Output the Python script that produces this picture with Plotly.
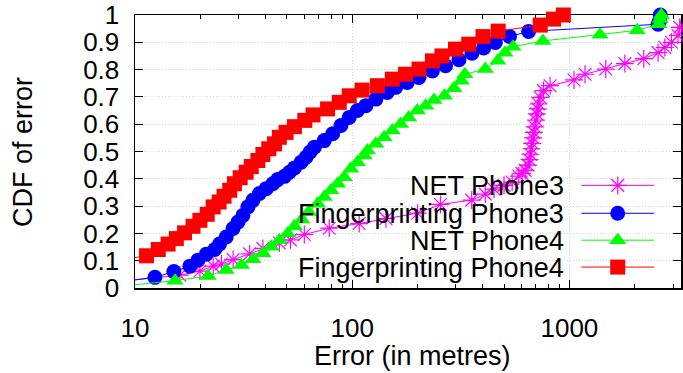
import math
import plotly.graph_objects as go

# ---- data: localisation error (m) vs cumulative fraction ----
net3_err = [8, 16.1, 19.9, 22.9, 25.0, 28.3, 33.7, 38.8, 46.2, 52.0,
            60.2, 78.4, 107.7, 143, 200, 255, 355, 410, 450, 500,
            545, 585, 605, 626, 645, 655, 662, 668, 674, 680,
            686, 694, 702, 708, 715, 721, 734, 760, 815, 1050,
            1180, 1470, 1800, 2200, 2560, 2750, 2950, 3160, 3220, 3265, 3300]
net3_cdf = [0.022, 0.047, 0.062, 0.080, 0.088, 0.104, 0.125, 0.145, 0.165, 0.176,
            0.196, 0.219, 0.236, 0.254, 0.274, 0.306, 0.322, 0.344, 0.362, 0.376,
            0.388, 0.410, 0.420, 0.431, 0.450, 0.470, 0.490, 0.510, 0.530, 0.550,
            0.570, 0.590, 0.615, 0.638, 0.656, 0.674, 0.698, 0.723, 0.741, 0.762,
            0.783, 0.802, 0.822, 0.840, 0.862, 0.881, 0.900, 0.925, 0.955, 0.980, 1.000]

fp3_err = [8, 12.35, 15.1, 17.9, 19.5, 21.3, 23.3, 24.5, 26.3, 28.3,
           29.8, 31.4, 33.1, 34.9, 37.4, 40.2, 43.1, 45.4, 48.8, 51.4,
           54.2, 58.2, 61.3, 64.0, 67.0, 74.4, 81.3, 88.8, 96.9, 105.7,
           115.6, 128.5, 145, 158.6, 179.3, 203, 234, 269, 310, 356,
           403, 456, 530, 649, 2560, 2606, 2620]
fp3_cdf = [0.020, 0.039, 0.060, 0.080, 0.102, 0.124, 0.141, 0.161, 0.187, 0.218,
           0.242, 0.266, 0.297, 0.321, 0.346, 0.364, 0.382, 0.397, 0.409, 0.424,
           0.440, 0.461, 0.479, 0.498, 0.516, 0.540, 0.565, 0.595, 0.625, 0.650,
           0.668, 0.692, 0.716, 0.735, 0.753, 0.771, 0.795, 0.814, 0.836, 0.860,
           0.879, 0.899, 0.921, 0.940, 0.966, 0.980, 1.000]

net4_err = [8, 15.3, 21.7, 26.3, 30.9, 34.9, 38.8, 42.4, 46.2, 50.5,
            54.2, 58.7, 63.0, 69.3, 74.4, 79.9, 85.7, 91.9, 98.6, 105.7,
            113.5, 117.6, 128.5, 140.3, 153, 167, 182, 199.5, 218, 238,
            266, 294, 318, 330, 410, 468, 505, 550, 755, 1383,
            2050, 2580, 2620, 2650]
net4_cdf = [0.004, 0.027, 0.044, 0.066, 0.084, 0.105, 0.127, 0.151, 0.175, 0.200,
            0.226, 0.251, 0.278, 0.309, 0.333, 0.358, 0.382, 0.406, 0.437, 0.461,
            0.485, 0.504, 0.528, 0.552, 0.577, 0.601, 0.625, 0.650, 0.668, 0.689,
            0.704, 0.732, 0.759, 0.783, 0.802, 0.832, 0.862, 0.884, 0.905, 0.928,
            0.944, 0.966, 0.985, 1.000]

fp4_err = [8, 11.3, 12.8, 14.2, 15.5, 16.9, 18.5, 19.9, 21.5, 22.9,
           24.4, 25.7, 27.3, 28.7, 30.5, 32.5, 34.3, 36.8, 38.8, 41.3,
           43.9, 46.2, 49.6, 54.2, 60.5, 66.0, 77.0, 87.2, 96.9, 111,
           130.6, 153, 176, 203, 234, 259, 299, 344, 400, 470,
           734, 845, 938]
fp4_cdf = [0.100, 0.118, 0.141, 0.161, 0.181, 0.202, 0.226, 0.248, 0.270, 0.297,
           0.315, 0.336, 0.358, 0.382, 0.404, 0.424, 0.445, 0.467, 0.489, 0.510,
           0.528, 0.552, 0.570, 0.591, 0.614, 0.634, 0.656, 0.680, 0.704, 0.725,
           0.741, 0.765, 0.783, 0.802, 0.832, 0.850, 0.875, 0.893, 0.921, 0.941,
           0.963, 0.985, 1.000]

series_names = ["NET Phone3", "Fingerprinting Phone3", "NET Phone4", "Fingerprinting Phone4"]
series_err = [net3_err, fp3_err, net4_err, fp4_err]
series_cdf = [net3_cdf, fp3_cdf, net4_cdf, fp4_cdf]
series_color = ["#ff00ff", "#0000ff", "#00ff00", "#ff0000"]
series_symbol = ["asterisk-open", "circle", "triangle-up", "square"]
series_size = [15, 15, 15, 15]

x_tick_vals = [10, 100, 1000]
x_tick_text = ["10", "100", "1000"]
x_minor_vals = [m * d for d in (10, 100, 1000) for m in range(2, 10)]
y_tick_vals = [i / 10 for i in range(11)]
y_tick_text = ["0", "0.1", "0.2", "0.3", "0.4", "0.5", "0.6", "0.7", "0.8", "0.9", "1"]

# ---- layout geometry (pixels) ----
W, H = 683, 373
PL, PT, PR, PB = 135, 14, 683, 288
DECADE_PX = 218.0
FONT = "Liberation Sans, Arial, sans-serif"
FS_TEXT = 27
FS_TICK = 26


def marker_for(sym, color, size):
    if sym == "asterisk-open":
        return dict(symbol=sym, size=size, color=color, line=dict(color=color, width=1.2))
    return dict(symbol=sym, size=size, color=color, line=dict(width=0))


fig = go.Figure()
for name, xs, ys, col, sym, sz in zip(series_names, series_err, series_cdf,
                                      series_color, series_symbol, series_size):
    fig.add_trace(go.Scatter(
        x=xs, y=ys, mode="lines+markers", name=name,
        line=dict(color=col, width=1),
        marker=marker_for(sym, col, sz),
        cliponaxis=False, showlegend=False, hoverinfo="skip",
    ))

# key drawn gnuplot-style: label on the left, sample on the right
key_rows = [185, 213, 240, 267]
key_x0, key_x1, key_text_right = 583, 656, 568
for name, col, sym, sz, ry in zip(series_names, series_color, series_symbol, series_size, key_rows):
    fig.add_trace(go.Scatter(
        x=[key_x0, key_x1], y=[ry, ry], mode="lines", xaxis="x2", yaxis="y2",
        line=dict(color=col, width=1), showlegend=False, hoverinfo="skip",
    ))
    fig.add_trace(go.Scatter(
        x=[(key_x0 + key_x1) / 2], y=[ry], mode="markers", xaxis="x2", yaxis="y2",
        marker=marker_for(sym, col, sz), showlegend=False, hoverinfo="skip",
        cliponaxis=False,
    ))
    fig.add_annotation(
        x=key_text_right, y=ry + 1, xref="x2", yref="y2", text=name, showarrow=False,
        xanchor="right", yanchor="middle", font=dict(family=FONT, size=FS_TEXT, color="black"),
    )

axis_common = dict(
    showline=True, linecolor="black", linewidth=1.5, mirror="ticks",
    ticks="inside", tickcolor="black", tickwidth=1, ticklen=8,
    tickfont=dict(family=FONT, size=FS_TICK, color="black"),
    ticklabeloverflow="allow",
    showgrid=True, gridcolor="#d4d4d4", griddash="1px,2px", gridwidth=1,
    zeroline=False, layer="below traces",
)

fig.update_layout(
    width=W, height=H,
    margin=dict(l=PL, r=W - PR, t=PT, b=H - PB, pad=0),
    paper_bgcolor="white", plot_bgcolor="white",
    xaxis=dict(
        type="log", range=[1, 1 + (PR - PL) / DECADE_PX],
        tickmode="array", tickvals=x_tick_vals, ticktext=x_tick_text,
        minor=dict(tickmode="array", tickvals=x_minor_vals, ticks="inside", ticklen=4,
                   tickcolor="black", tickwidth=1, showgrid=False),
        ticklabelstandoff=16,
        **axis_common,
    ),
    yaxis=dict(
        range=[0, 1], tickmode="array", tickvals=y_tick_vals, ticktext=y_tick_text,
        ticklabelstandoff=9,
        **axis_common,
    ),
    xaxis2=dict(range=[PL, PR], overlaying="x", visible=False, fixedrange=True),
    yaxis2=dict(range=[PB, PT], overlaying="y", visible=False, fixedrange=True),
    showlegend=False,
)

# axis titles
fig.add_annotation(x=(414 - PL) / (PR - PL), y=(PB - 356) / (PB - PT), xref="paper", yref="paper",
                   text="Error (in metres)", showarrow=False, xanchor="center", yanchor="middle",
                   font=dict(family=FONT, size=FS_TEXT, color="black"))
fig.add_annotation(x=(22 - PL) / (PR - PL), y=(PB - 151) / (PB - PT), xref="paper", yref="paper",
                   text="CDF of error", showarrow=False, textangle=-90, xanchor="center", yanchor="middle",
                   font=dict(family=FONT, size=FS_TEXT, color="black"))

fig.write_html("out.html", config={"displayModeBar": False, "staticPlot": True})
